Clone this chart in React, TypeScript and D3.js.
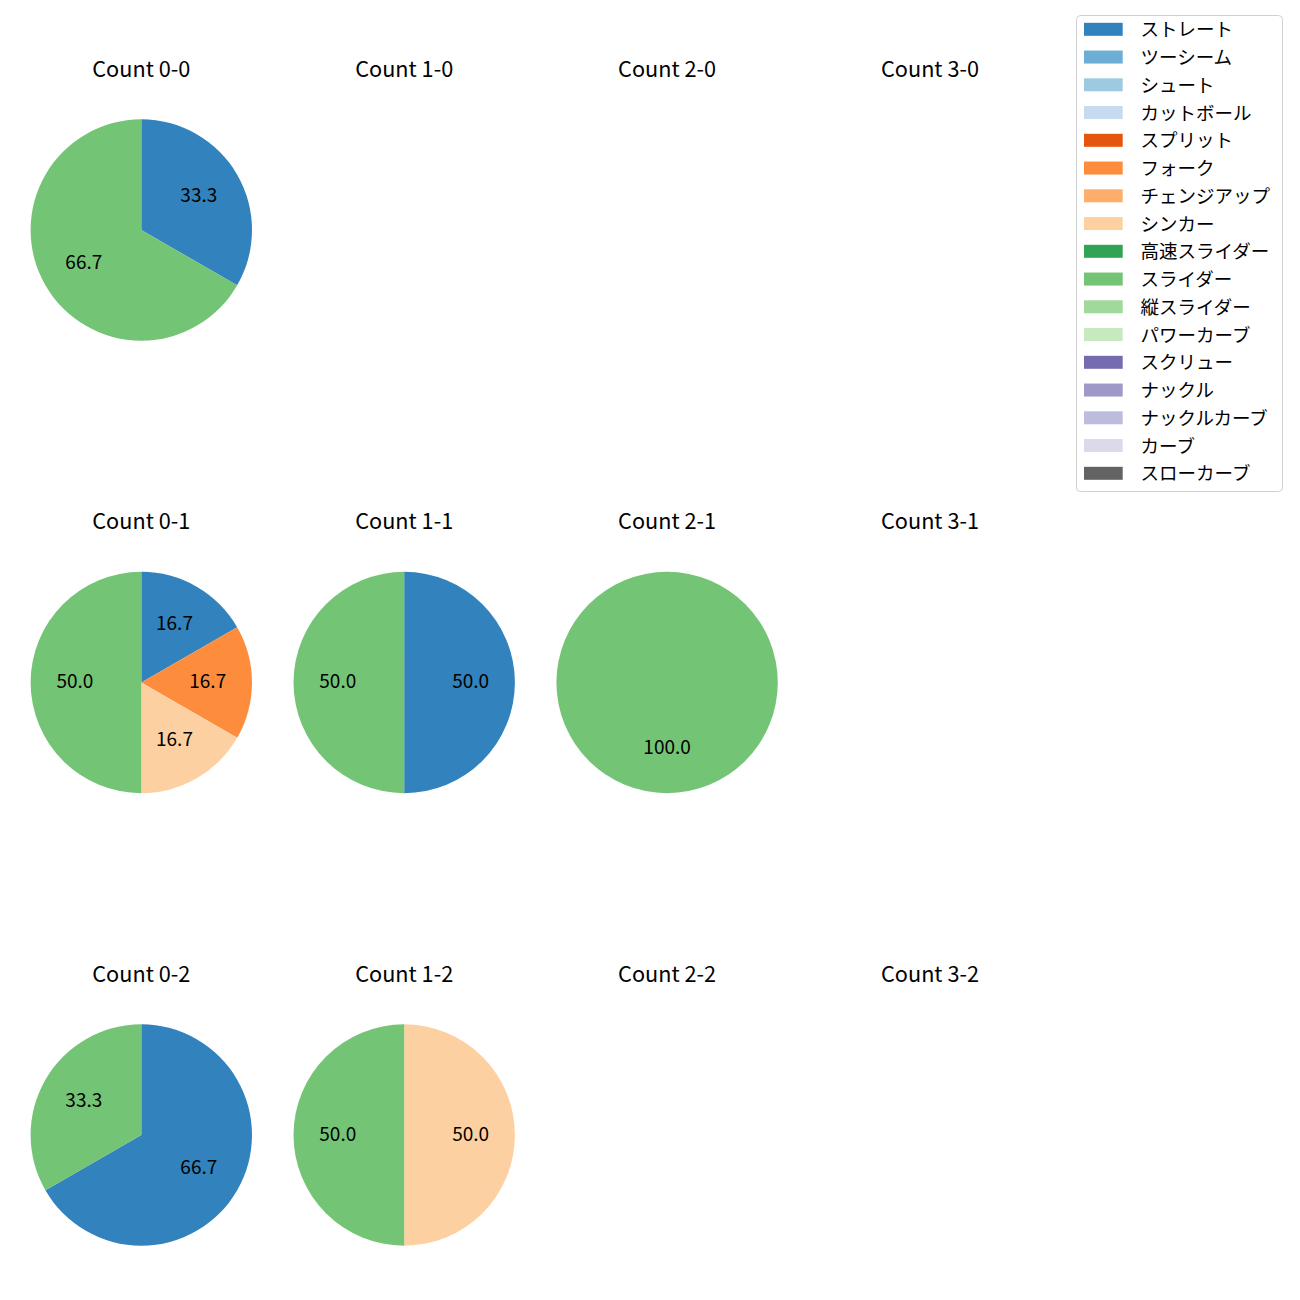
import React from "react";
import * as d3 from "d3";

const pitchTypes = [
  "ストレート", "ツーシーム", "シュート", "カットボール", "スプリット", "フォーク",
  "チェンジアップ", "シンカー", "高速スライダー", "スライダー", "縦スライダー",
  "パワーカーブ", "スクリュー", "ナックル", "ナックルカーブ", "カーブ", "スローカーブ",
];
const pitchColors = [
  "#3182bd", "#6baed6", "#9ecae1", "#c6dbef", "#e6550d", "#fd8d3c",
  "#fdae6b", "#fdd0a2", "#31a354", "#74c476", "#a1d99b",
  "#c7e9c0", "#756bb1", "#9e9ac8", "#bcbddc", "#dadaeb", "#636363",
];

const balls = [0, 1, 2, 3];
const strikes = [0, 1, 2];

// counts per pitch type for each count (balls-strikes)
const count00 = { "ストレート": 1, "スライダー": 2 };
const count10 = {};
const count20 = {};
const count30 = {};
const count01 = { "ストレート": 1, "フォーク": 1, "シンカー": 1, "スライダー": 3 };
const count11 = { "ストレート": 1, "スライダー": 1 };
const count21 = { "スライダー": 1 };
const count31 = {};
const count02 = { "ストレート": 2, "スライダー": 1 };
const count12 = { "シンカー": 1, "スライダー": 1 };
const count22 = {};
const count32 = {};

const countData: Record<string, Record<string, number>> = {
  "0-0": count00, "1-0": count10, "2-0": count20, "3-0": count30,
  "0-1": count01, "1-1": count11, "2-1": count21, "3-1": count31,
  "0-2": count02, "1-2": count12, "2-2": count22, "3-2": count32,
};

const FONT = "'Noto Sans CJK JP', 'Noto Sans', sans-serif";

export default function App() {
  const W = 1300, H = 1300;
  const x = d3.scaleLinear().domain([0, 3]).range([141.3, 930]);
  const y = d3.scaleLinear().domain([0, 2]).range([230, 1135]);
  const R = 110.7;
  const color = d3.scaleOrdinal<string, string>().domain(pitchTypes).range(pitchColors);
  const arc = d3.arc<d3.PieArcDatum<any>>().innerRadius(0).outerRadius(R);
  const labelArc = d3.arc<d3.PieArcDatum<any>>().innerRadius(R * 0.6).outerRadius(R * 0.6);
  const pie = d3.pie<any>().value((d: any) => d.value).sort(null).startAngle(0).endAngle(2 * Math.PI);

  const legendX = 1076.5, legendY = 15.5, legendW = 206, legendH = 476;
  const rowH = 27.75;

  return (
    <svg width={W} height={H} style={{ display: "block", position: "absolute", left: 0, top: 0 }} fontFamily={FONT}>
      <rect width={W} height={H} fill="#fff" />
      {strikes.map((s) =>
        balls.map((b) => {
          const key = `${b}-${s}`;
          const obj = countData[key];
          const entries = pitchTypes.filter((p) => obj[p]).map((p) => ({ name: p, value: obj[p] }));
          const total = d3.sum(entries, (e) => e.value);
          const arcs = pie(entries);
          const cx = x(b), cy = y(s);
          return (
            <g key={key}>
              <text x={cx} y={cy - 163} textAnchor="middle" dominantBaseline="central" fontSize={21.7} fill="#000">
                {`Count ${key}`}
              </text>
              <g transform={`translate(${cx},${cy})`}>
                {arcs.map((a, i) => (
                  <path key={i} d={arc(a) as string} fill={color(a.data.name)} />
                ))}
                {arcs.map((a, i) => {
                  const [lx, ly] = labelArc.centroid(a);
                  return (
                    <text key={"t" + i} x={lx} y={ly - 3} textAnchor="middle" dominantBaseline="central" fontSize={19} fill="#000">
                      {((a.data.value / total) * 100).toFixed(1)}
                    </text>
                  );
                })}
              </g>
            </g>
          );
        })
      )}
      <g>
        <rect x={legendX} y={legendY} width={legendW} height={legendH} rx={4} fill="#fff" stroke="#d0d0d0" strokeWidth={1} />
        {pitchTypes.map((p, i) => {
          const cyL = 29.3 + i * rowH;
          return (
            <g key={p}>
              <rect x={1084} y={cyL - 6.5} width={38.7} height={13} fill={color(p)} />
              <text x={1140.5} y={cyL - 1} dominantBaseline="central" fontSize={18.5} fill="#000">{p}</text>
            </g>
          );
        })}
      </g>
    </svg>
  );
}
